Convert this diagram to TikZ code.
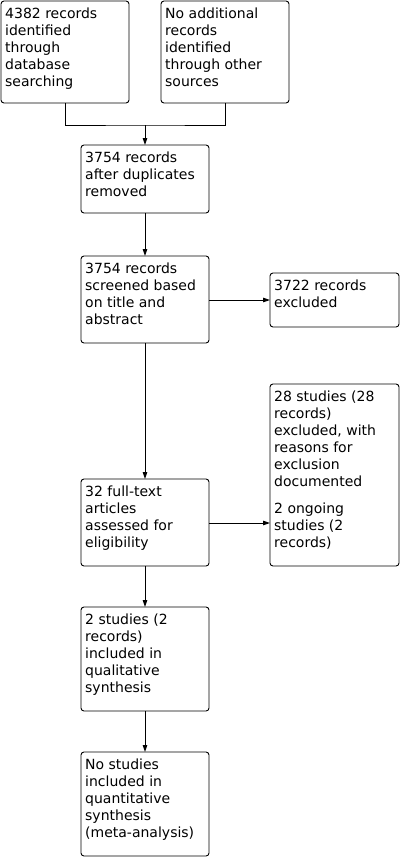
\documentclass[tikz,border=0pt]{standalone}
\usepackage{fontspec}
\setmainfont{DejaVu Sans}
\usetikzlibrary{arrows.meta}
\begin{document}
\begin{tikzpicture}[x=1pt,y=-1pt,
  box/.style={draw, rounded corners=3pt, line width=0.9pt, inner sep=0pt, outer sep=0pt, anchor=north west},
  txt/.style={anchor=north west, inner xsep=4pt, inner ysep=6.5pt, align=left, font=\fontsize{14}{17}\selectfont},
  ln/.style={line width=0.9pt},
  arr/.style={line width=0.9pt, -{Triangle[length=7pt,width=4.5pt]}}]
\useasboundingbox (0,0) rectangle (402,857);
% boxes
\node[box, minimum width=128pt, minimum height=102pt] (A) at (1,1) {};
\node[box, minimum width=128pt, minimum height=102pt] (B) at (161,1) {};
\node[box, minimum width=128pt, minimum height=68pt] (C) at (81,145) {};
\node[box, minimum width=128pt, minimum height=87pt] (D) at (81,256) {};
\node[box, minimum width=129pt, minimum height=54pt] (E) at (270,273) {};
\node[box, minimum width=129pt, minimum height=182pt] (F) at (270,384) {};
\node[box, minimum width=128pt, minimum height=87pt] (G) at (81,479) {};
\node[box, minimum width=128pt, minimum height=104pt] (H) at (81,607) {};
\node[box, minimum width=128pt, minimum height=104pt] (I) at (81,752) {};
% texts
\node[txt] (tA) at (A.north west) {4382 records\\identified\\through\\database\\searching};
\node[txt] (tB) at (B.north west) {No additional\\records\\identified\\through other\\sources};
\node[txt] (tC) at (C.north west) {3754 records\\after duplicates\\removed};
\node[txt] (tD) at (D.north west) {3754 records\\screened based\\on title and\\abstract};
\node[txt] (tE) at (E.north west) {3722 records\\excluded};
\node[txt] (tF) at (F.north west) {28 studies (28\\records)\\excluded, with\\reasons for\\exclusion\\documented\\[10pt]2 ongoing\\studies (2\\records)};
\node[txt] (tG) at (G.north west) {32 full-text\\articles\\assessed for\\eligibility};
\node[txt] (tH) at (H.north west) {2 studies (2\\records)\\included in\\qualitative\\synthesis};
\node[txt] (tI) at (I.north west) {No studies\\included in\\quantitative\\synthesis\\(meta-analysis)};
% connectors
\coordinate (m) at (C.north |- 0,125);
\draw[ln] (A.south) |- (m) -| (B.south);
\draw[arr] (m) -- (C.north);
\draw[arr] (C.south) -- (D.north);
\draw[arr] (D.east |- E.west) -- (E.west);
\draw[arr] (D.south) -- (G.north);
\draw[arr] (G.east |- 0,523) -- (F.west |- 0,523);
\draw[arr] (G.south) -- (H.north);
\draw[arr] (H.south) -- (I.north);
\end{tikzpicture}
\end{document}
